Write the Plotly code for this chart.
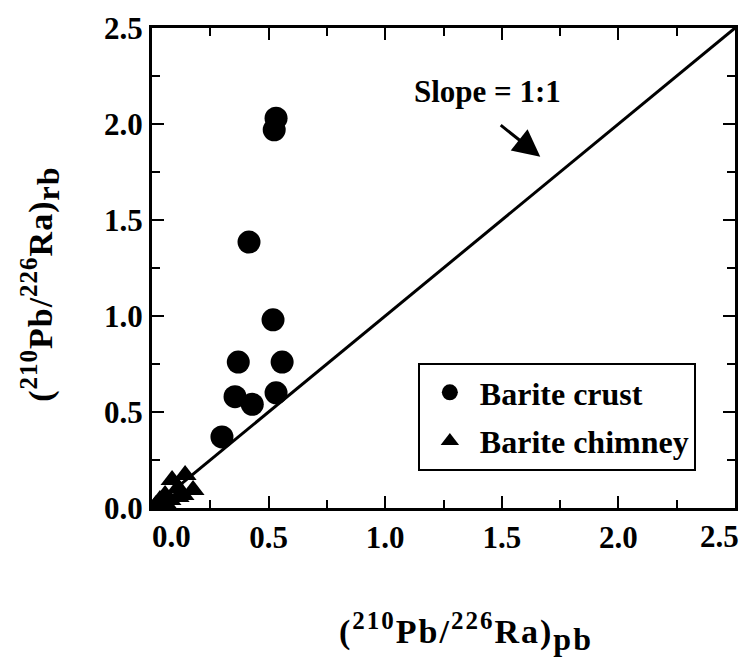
import plotly.graph_objects as go

crust_x = [0.532, 0.524, 0.416, 0.519, 0.370, 0.558, 0.356, 0.430, 0.532, 0.300]
crust_y = [2.03, 1.97, 1.385, 0.98, 0.76, 0.76, 0.58, 0.54, 0.60, 0.37]

chim_x = [0.017, 0.034, 0.056, 0.056, 0.077, 0.086, 0.112, 0.112, 0.133, 0.142, 0.176]
chim_y = [0.016, 0.042, 0.026, 0.068, 0.042, 0.146, 0.104, 0.057, 0.068, 0.172, 0.094]

line_x = [0, 2.5]
line_y = [0, 2.5]

y_tick_vals = [0.0, 0.5, 1.0, 1.5, 2.0, 2.5]
y_tick_text = ["0.0", "0.5", "1.0", "1.5", "2.0", "2.5"]
x_tick_vals = [0.5, 1.0, 1.5, 2.0]
x_tick_text = ["0.5", "1.0", "1.5", "2.0"]
x_end_text = ["0.0", "2.5"]
minor_vals = [0.25, 0.75, 1.25, 1.75, 2.25]

FONT = "Liberation Serif"
TICKFONT = dict(family=FONT, size=31, color="black", weight="bold")


def title_html(sub, spacing):
    return ("<span style='letter-spacing:" + spacing + "'><b>(<sup><span style='font-size:25px'>210</span></sup>Pb/"
            "<sup><span style='font-size:25px'>226</span></sup>Ra)"
            "<sub><span style='font-size:32px'>" + sub + "</span></sub></b></span>")


fig = go.Figure()
fig.add_trace(go.Scatter(x=line_x, y=line_y, mode="lines",
                         line=dict(color="black", width=3), showlegend=False,
                         hoverinfo="skip"))
fig.add_trace(go.Scatter(x=crust_x, y=crust_y, mode="markers", name="Barite crust",
                         legendgroup="a",
                         marker=dict(symbol="circle", size=23, color="black")))
fig.add_trace(go.Scatter(x=chim_x, y=chim_y, mode="markers", name="Barite chimney",
                         legendgroup="b",
                         marker=dict(symbol="triangle-up", size=20, color="black")))

fig.add_annotation(x=1.665, y=1.83, ax=1.489, ay=2.0, xref="x", yref="y",
                   axref="x", ayref="y", text="", showarrow=True,
                   arrowhead=2, arrowsize=1.8, arrowwidth=3, arrowcolor="black")
fig.add_annotation(x=1.44, y=2.17, xref="x", yref="y", text="<b>Slope = 1:1</b>",
                   showarrow=False, font=dict(family=FONT, size=31, color="black"))

# x-axis end labels (shifted inward as in the original)
fig.add_annotation(x=0.034, y=0, xref="paper", yref="paper", xanchor="center",
                   yanchor="top", yshift=-9, text="<b>" + x_end_text[0] + "</b>",
                   showarrow=False, font=TICKFONT)
fig.add_annotation(x=0.9726, y=0, xref="paper", yref="paper", xanchor="center",
                   yanchor="top", yshift=-9, text="<b>" + x_end_text[1] + "</b>",
                   showarrow=False, font=TICKFONT)

fig.add_annotation(x=0.539, y=-0.258, xref="paper", yref="paper",
                   xanchor="center", yanchor="middle", text=title_html("pb", "2px"),
                   showarrow=False, font=dict(family=FONT, size=34, color="black"))
fig.add_annotation(x=-0.192, y=0.465, xref="paper", yref="paper", textangle=-90,
                   xanchor="center", yanchor="middle", text=title_html("rb", "1px"),
                   showarrow=False, font=dict(family=FONT, size=34, color="black"))

axis_common = dict(range=[0, 2.5],
                   ticks="inside", ticklen=12, tickwidth=2, tickcolor="black",
                   showline=True, linecolor="black", linewidth=3, mirror="ticks",
                   showgrid=False, zeroline=False,
                   minor=dict(tickvals=minor_vals, ticks="inside",
                              ticklen=8, tickwidth=2, tickcolor="black", showgrid=False),
                   tickfont=TICKFONT)

fig.update_xaxes(tickvals=x_tick_vals, ticktext=x_tick_text, **axis_common)
fig.update_yaxes(tickvals=y_tick_vals, ticktext=y_tick_text, **axis_common)

fig.update_layout(
    width=753, height=658,
    margin=dict(l=152, r=18, t=28, b=150),
    paper_bgcolor="white", plot_bgcolor="white",
    font=dict(family=FONT, color="black"),
    legend=dict(x=0.456, y=0.302, xanchor="left", yanchor="top",
                bordercolor="black", borderwidth=2, bgcolor="white",
                font=dict(family=FONT, size=32, color="black", weight="bold"),
                tracegroupgap=4, itemsizing="trace", itemwidth=50),
)

fig.write_html("out.html", config={"displayModeBar": False},
               post_script="document.body.style.margin='0';document.body.style.overflow='hidden';")
